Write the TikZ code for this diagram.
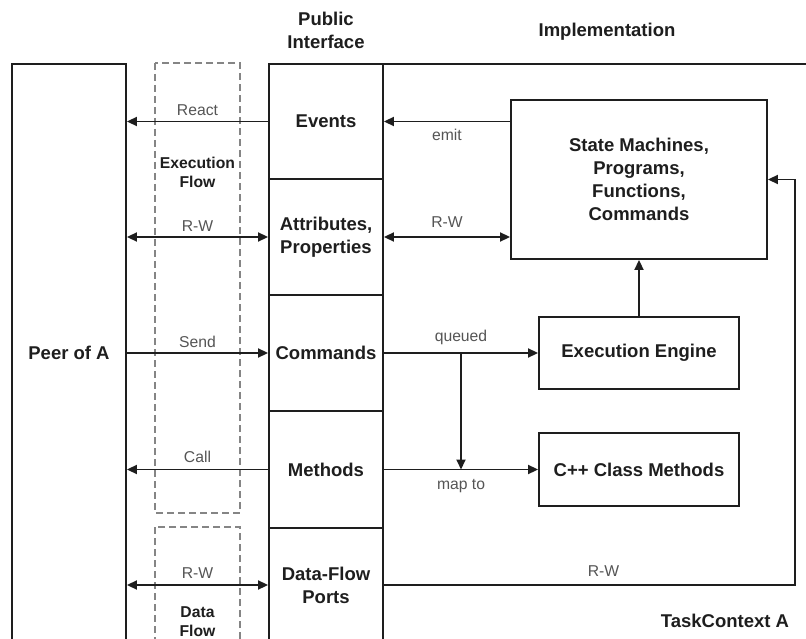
\documentclass[tikz,border=0pt]{standalone}
\usepackage{fontspec}
\setmainfont{Liberation Sans}
\usetikzlibrary{arrows.meta}
\definecolor{ln}{HTML}{1E1E1E}
\definecolor{labgray}{HTML}{555555}
\definecolor{dsh}{HTML}{858585}
\begin{document}
\begin{tikzpicture}[x=1pt,y=-1pt,
  every node/.style={inner sep=0pt},
  bold/.style={font=\fontsize{18.5}{23}\selectfont\bfseries, text=ln},
  smallbold/.style={font=\fontsize{15.7}{19}\selectfont\bfseries, text=ln},
  lab/.style={font=\fontsize{15.7}{19}\selectfont, text=labgray},
  tag/.style={lab, anchor=base, yshift=#1},
  box/.style={draw=ln, line width=1.9pt, bold, align=center, rectangle},
  line/.style={draw=ln, line width=1.9pt},
  arr/.style={line, -{Triangle[length=10pt,width=9pt]}},
  darr/.style={line, {Triangle[length=10pt,width=9pt]}-{Triangle[length=10pt,width=9pt]}},
  dashbox/.style={draw=dsh, line width=1.5pt, dash pattern=on 7pt off 4pt},
]
\clip (0,0) rectangle (806,639);
\fill[white] (0,0) rectangle (806,639);

% headers
\node[bold, align=center] (pi) at (326,30.5) {Public\\Interface};
\node[bold, anchor=base] (impl) at (607,36.5) {Implementation};
\node[bold, anchor=base] (tc) at (725,627) {TaskContext A};

% dashed flow boxes
\draw[dashbox] (155,63) rectangle (240,513);
\draw[dashbox] (155,527) rectangle (240,700);
\node[smallbold, align=center] (exf) at (197.5,172) {Execution\\Flow};
\node[smallbold, align=center] (daf) at (197.5,622) {Data\\Flow};

% peer
\node[box, minimum width=114pt, minimum height=578pt] (peer) at (69,353) {Peer of A};

% task context outline
\coordinate (tcl) at (269,64);
\coordinate (tcr) at (812,64);
\draw[line] (tcl) -- (tcr);

% public interface column
\node[box, minimum width=114pt, minimum height=115pt] (ev) at (326,121.5) {Events};
\node[box, minimum width=114pt, minimum height=116pt] (at) at (326,237) {Attributes,\\Properties};
\node[box, minimum width=114pt, minimum height=116pt] (cm) at (326,353) {Commands};
\node[box, minimum width=114pt, minimum height=117pt] (me) at (326,469.5) {Methods};
\node[box, minimum width=114pt, minimum height=114pt] (df) at (326,585) {Data-Flow\\Ports};

% implementation
\node[box, minimum width=256pt, minimum height=159pt] (sm) at (639,179.5) {State Machines,\\Programs,\\Functions,\\Commands};
\node[box, minimum width=200pt, minimum height=72pt] (ee) at (639,353) {Execution Engine};
\node[box, minimum width=200pt, minimum height=73pt] (cpp) at (639,469.5) {C++ Class Methods};

% right connectors
\draw[arr] (sm.west |- ev.east) -- (ev.east) node[pos=.5, tag=-19pt] {emit};
\draw[darr] (at.east) -- (at.east -| sm.west) node[pos=.5, tag=9pt] {R-W};
\draw[arr] (cm.east) -- (ee.west) node[pos=.5, tag=12pt] {queued};
\coordinate (j) at (461,353);
\draw[arr] (j) -- (j |- cpp.west);
\draw[arr] (me.east) -- (cpp.west) node[pos=.5, tag=-20pt] {map to};
\draw[arr] (ee.north) -- (sm.south);
\coordinate (c1) at (795,585);
\coordinate (c2) at (795,179.5);
\draw[arr] (df.east) -- node[pos=.534, tag=9pt] {R-W} (c1) -- (c2) -- (sm.east);

% left connectors
\draw[arr] (ev.west) -- (ev.west -| peer.east) node[pos=.5, tag=6pt] {React};
\draw[darr] (at.west) -- (at.west -| peer.east) node[pos=.5, tag=5pt] {R-W};
\draw[arr] (cm.west -| peer.east) -- (cm.west) node[pos=.5, tag=6pt] {Send};
\draw[arr] (me.west) -- (me.west -| peer.east) node[pos=.5, tag=7pt] {Call};
\draw[darr] (df.west) -- (df.west -| peer.east) node[pos=.5, tag=7pt] {R-W};
\end{tikzpicture}
\end{document}
